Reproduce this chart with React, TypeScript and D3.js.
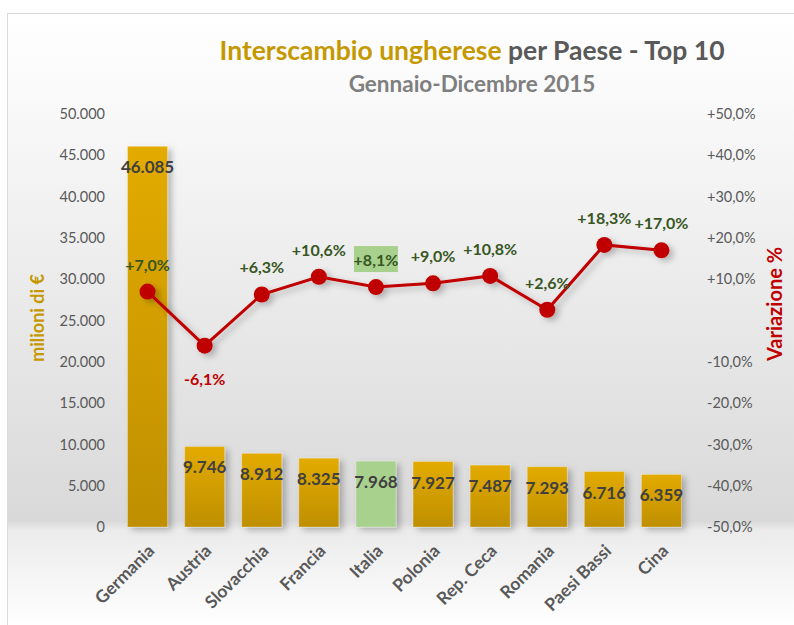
import React, { useEffect, useRef } from "react";
import * as d3 from "d3";

const categories = ["Germania", "Austria", "Slovacchia", "Francia", "Italia", "Polonia", "Rep. Ceca", "Romania", "Paesi Bassi", "Cina"];
const values = [46085, 9746, 8912, 8325, 7968, 7927, 7487, 7293, 6716, 6359];
const changes = [7.0, -6.1, 6.3, 10.6, 8.1, 9.0, 10.8, 2.6, 18.3, 17.0];
const leftTicks = [0, 5000, 10000, 15000, 20000, 25000, 30000, 35000, 40000, 45000, 50000];
const rightTicks = [-50, -40, -30, -20, -10, 0, 10, 20, 30, 40, 50];
const highlight = "Italia";

const W = 794, H = 625;
const FONT = "Lato, 'Open Sans', sans-serif";

const locale = d3.formatLocale({ decimal: ",", thousands: ".", grouping: [3], currency: ["", "€"], minus: "-" });
const fmtNum = locale.format(",");
const fmtPct = (v: number) => (v === 0 ? "" : locale.format("+.1f")(v) + "%");

export default function App() {
    const ref = useRef<SVGSVGElement>(null);

    useEffect(() => {
        const svg = d3.select(ref.current);
        svg.selectAll("*").remove();

        const margin = { left: 119, right: 104, top: 114, bottom: 98 };
        const x = d3.scaleBand().domain(categories).range([margin.left, W - margin.right]).paddingInner(0.3).paddingOuter(0.15);
        const y = d3.scaleLinear().domain([0, 50000]).range([H - margin.bottom, margin.top]);
        const y2 = d3.scaleLinear().domain([-50, 50]).range([H - margin.bottom, margin.top]);

        const defs = svg.append("defs");
        const bg = defs.append("linearGradient").attr("id", "bg").attr("gradientUnits", "userSpaceOnUse")
            .attr("x1", 0).attr("x2", 0).attr("y1", 13).attr("y2", H);
        [[0, "#ffffff"], [0.15, "#f9f9f9"], [0.83, "#d9d9d9"], [0.845, "#ebebeb"], [1, "#ffffff"]].forEach(([o, c]) =>
            bg.append("stop").attr("offset", o as number).attr("stop-color", c as string));

        const gold = defs.append("linearGradient").attr("id", "gold").attr("x1", 0).attr("x2", 0).attr("y1", 0).attr("y2", 1);
        gold.append("stop").attr("offset", 0).attr("stop-color", "#e3ab00");
        gold.append("stop").attr("offset", 1).attr("stop-color", "#bf8f00");

        const sh = defs.append("filter").attr("id", "shadow").attr("x", "-20%").attr("y", "-20%").attr("width", "150%").attr("height", "150%");
        sh.append("feDropShadow").attr("dx", 4).attr("dy", 3).attr("stdDeviation", 3).attr("flood-color", "#000").attr("flood-opacity", 0.25);

        svg.append("rect").attr("x", 7.5).attr("y", 13.5).attr("width", W).attr("height", H)
            .attr("fill", "url(#bg)").attr("stroke", "#d9d9d9");

        // title
        const title = svg.append("text").attr("x", 472).attr("y", 60).attr("text-anchor", "middle")
            .attr("font-family", FONT).attr("font-weight", "bold").attr("font-size", 26.5);
        title.append("tspan").attr("fill", "#c59800").text("Interscambio ungherese ");
        title.append("tspan").attr("fill", "#595959").text("per Paese - Top 10");
        svg.append("text").attr("x", 472).attr("y", 92).attr("text-anchor", "middle")
            .attr("font-family", FONT).attr("font-weight", "bold").attr("font-size", 22.5).attr("fill", "#7f7f7f")
            .text("Gennaio-Dicembre 2015");

        // left axis
        const ax = svg.append("g").attr("transform", `translate(${margin.left - 14},0)`)
            .call(d3.axisLeft(y).tickValues(leftTicks).tickFormat((d) => fmtNum(d as number)).tickSize(0).tickPadding(0));
        ax.select(".domain").remove();
        ax.selectAll("text").attr("font-family", FONT).attr("font-size", 14.5).attr("fill", "#595959");

        const ar = svg.append("g").attr("transform", `translate(${W - margin.right + 17},0)`)
            .call(d3.axisRight(y2).tickValues(rightTicks).tickFormat((d) => fmtPct(d as number)).tickSize(0).tickPadding(0));
        ar.select(".domain").remove();
        ar.selectAll("text").attr("font-family", FONT).attr("font-size", 14.5).attr("fill", "#595959");

        svg.append("text").attr("transform", `translate(44,318) rotate(-90)`).attr("text-anchor", "middle")
            .attr("font-family", FONT).attr("font-weight", "bold").attr("font-size", 18).attr("fill", "#c59800")
            .text("milioni di €");
        svg.append("text").attr("transform", `translate(782,304) rotate(-90)`).attr("text-anchor", "middle")
            .attr("font-family", FONT).attr("font-weight", "bold").attr("font-size", 20).attr("fill", "#c00000")
            .text("Variazione %");

        // bars
        svg.append("g").attr("filter", "url(#shadow)").selectAll("rect").data(categories).join("rect")
            .attr("x", (d) => x(d)!)
            .attr("y", (d, i) => y(values[i]))
            .attr("width", x.bandwidth())
            .attr("height", (d, i) => y(0) - y(values[i]))
            .attr("fill", (d) => (d === highlight ? "#a9d18e" : "url(#gold)"))
            .attr("stroke", "rgba(255,255,255,0.25)");

        svg.append("g").selectAll("text").data(categories).join("text")
            .attr("x", (d) => x(d)! + x.bandwidth() / 2)
            .attr("y", (d, i) => y(values[i]) + 27)
            .attr("text-anchor", "middle")
            .attr("font-family", FONT).attr("font-weight", "bold").attr("font-size", 17).attr("fill", "#404040")
            .text((d, i) => fmtNum(values[i]));

        // category labels
        svg.append("g").selectAll("text").data(categories).join("text")
            .attr("transform", (d) => `translate(${x(d)! + x.bandwidth() / 2 + 8},${y(0) + 25}) rotate(-45)`)
            .attr("text-anchor", "end")
            .attr("font-family", FONT).attr("font-weight", "bold").attr("font-size", 17.5).attr("fill", "#595959")
            .text((d) => d);

        // line
        const cx = (i: number) => x(categories[i])! + x.bandwidth() / 2;
        const line = d3.line<number>().x((d, i) => cx(i)).y((d) => y2(d));
        const lg = svg.append("g").attr("filter", "url(#shadow)");
        lg.append("path").attr("d", line(changes)).attr("fill", "none").attr("stroke", "#c00000").attr("stroke-width", 3);
        lg.selectAll("circle").data(changes).join("circle")
            .attr("cx", (d, i) => cx(i)).attr("cy", (d) => y2(d)).attr("r", 8).attr("fill", "#c00000");

        // line labels
        const hi = categories.indexOf(highlight);
        svg.append("rect").attr("x", cx(hi) - 22).attr("y", y2(changes[hi]) - 41).attr("width", 44).attr("height", 26)
            .attr("fill", "#a9d18e");
        svg.append("g").selectAll("text").data(changes).join("text")
            .attr("x", (d, i) => cx(i))
            .attr("y", (d) => (d < 0 ? y2(d) + 39 : y2(d) - 21))
            .attr("text-anchor", "middle")
            .attr("font-family", FONT).attr("font-weight", "bold").attr("font-size", 16)
            .attr("fill", (d) => (d < 0 ? "#c00000" : "#375623"))
            .text((d) => fmtPct(d));
    }, []);

    return (
        <svg ref={ref} width={W} height={H} style={{ position: "absolute", left: 0, top: 0 }}></svg>
    );
}
